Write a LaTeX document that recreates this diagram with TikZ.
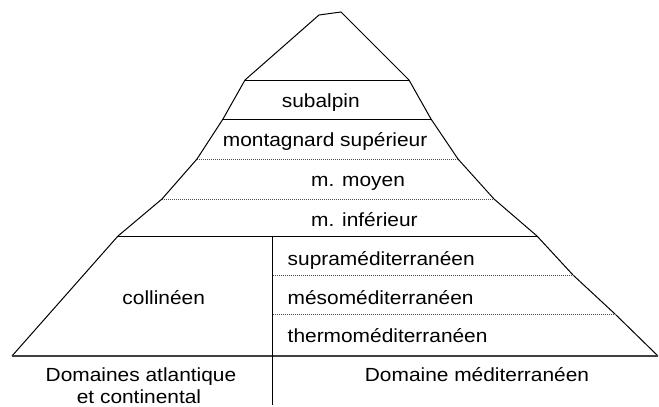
\documentclass[tikz,border=0pt]{standalone}
\usepackage{fontspec}
\setmainfont[FakeStretch=1.1]{Liberation Sans}
\begin{document}
\begin{tikzpicture}[x=1pt,y=-1pt,
  outline/.style={line width=1pt,line join=miter},
  solidline/.style={line width=1pt},
  baseline line/.style={line width=1.8pt,black!75},
  dotline/.style={line width=0.6pt,black!70,dash pattern=on 1pt off 1pt},
  divider/.style={line width=1.4pt},
  lbl/.style={inner sep=0pt,font=\fontsize{19}{23}\selectfont},
  lblw/.style={lbl,anchor=base west},
  lblc/.style={lbl,anchor=base}]
\useasboundingbox (0,0) rectangle (659,407);
\fill[white] (0,0) rectangle (659,407);
% outline coordinates
\coordinate (L0) at (12,356);
\coordinate (L1) at (118,236);
\coordinate (L2) at (162,199);
\coordinate (L3) at (197,159);
\coordinate (L4) at (223,119);
\coordinate (L5) at (245,80);
\coordinate (P1) at (319,15);
\coordinate (P2) at (341,12);
\coordinate (R5) at (409,80);
\coordinate (R4) at (431,119);
\coordinate (R3) at (458,159);
\coordinate (R2) at (494,199);
\coordinate (R1) at (537,236);
\coordinate (Ra) at (573,275);
\coordinate (Rb) at (615,314);
\coordinate (R0) at (658,356);
\coordinate (Ma) at (272.5,275);
\coordinate (Mb) at (272.5,314);
\coordinate (Dt) at (272.5,236);
\coordinate (Db) at (272.5,405);
% outline
\draw[outline] (L0) -- (L1) -- (L2) -- (L3) -- (L4) -- (L5) -- (P1) -- (P2)
  -- (R5) -- (R4) -- (R3) -- (R2) -- (R1) -- (Ra) -- (Rb) -- (R0);
% bands
\draw[solidline] (L5) -- (R5);
\draw[solidline] (L4) -- (R4);
\draw[dotline] (L3) -- (R3);
\draw[dotline] (L2) -- (R2);
\draw[solidline] (L1) -- (R1);
\draw[dotline] (Ma) -- (Ra);
\draw[dotline] (Mb) -- (Rb);
\draw[baseline line] (L0) -- (R0);
\draw[divider] (Dt) -- (Db);
% labels
\node[lblw] (sub) at (281.7,107.3) {subalpin};
\node[lblw] (msup) at (222.7,146.7) {montagnard supérieur};
\node[lblw] (mmoy) at (311,186.7) {m. moyen};
\node[lblw] (minf) at (311,226.7) {m. inférieur};
\node[lblw] (supra) at (287.5,265.3) {supraméditerranéen};
\node[lblw] (meso) at (287.5,304.3) {mésoméditerranéen};
\node[lblw] (thermo) at (287.5,342.5) {thermoméditerranéen};
\node[lblc] (coll) at (163.7,304) {collinéen};
\node[lblc] (dom1) at (141,381.7) {Domaines atlantique};
\node[lblc] (dom2) at (139,403.5) {et continental};
\node[lblc] (dmed) at (477,381.7) {Domaine méditerranéen};
\end{tikzpicture}
\end{document}
